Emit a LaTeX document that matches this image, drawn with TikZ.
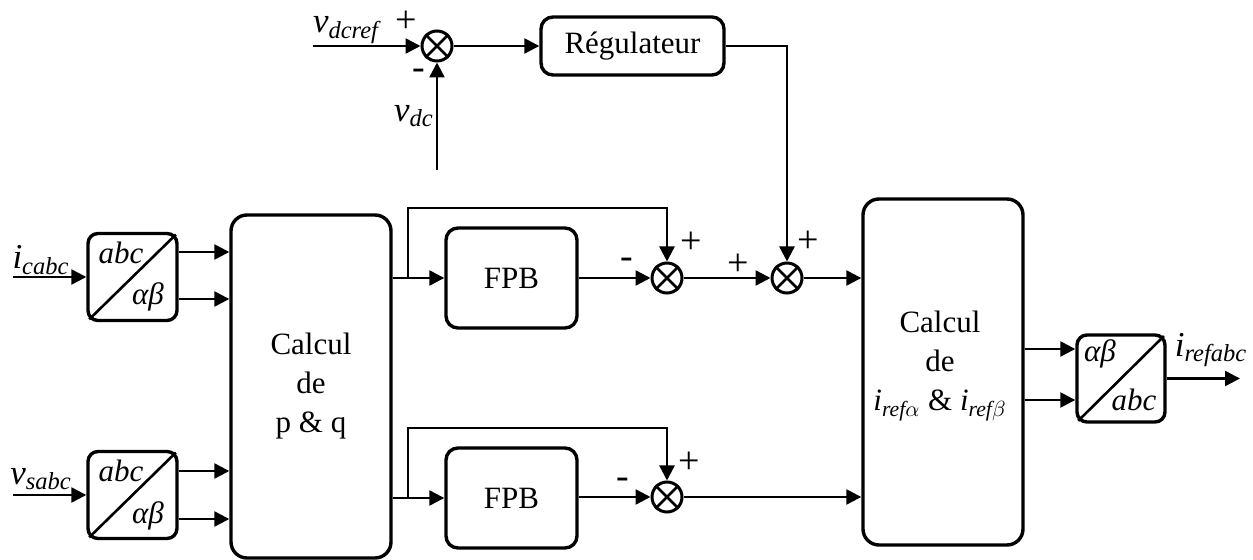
\documentclass[tikz,border=0pt]{standalone}
\usepackage{amsmath}
\usepackage{fontspec}
\setmainfont{Liberation Serif}
\usetikzlibrary{arrows.meta}
\begin{document}
\begin{tikzpicture}[x=0.5pt,y=-0.5pt,
  every node/.style={font=\fontsize{15.5}{19.5}\selectfont},
  wire/.style={line width=1.2pt},
  arr/.style={wire,-{Triangle[length=7.5pt,width=7.5pt]}},
  block/.style={draw,line width=1.7pt,rounded corners=6pt,inner sep=0pt,align=center},
  sumj/.style={draw,circle,line width=1.5pt,minimum size=15pt,inner sep=0pt},
  lbl/.style={inner sep=0pt},
  siglbl/.style={inner sep=0pt,font=\fontsize{17.5}{20}\selectfont},
  sign/.style={inner sep=0pt,font=\fontsize{19}{22}\selectfont}]
\useasboundingbox (0,0) rectangle (1253,560);

% blocks
\node[block,minimum width=91.5pt,minimum height=29pt] (reg) at (632.5,46) {Régulateur};
\node[block,minimum width=80pt,minimum height=171.5pt,rounded corners=8pt] (pq) at (311,386.5) {Calcul\\de\\p \& q};
\node[block,minimum width=65.5pt,minimum height=50pt] (fpb1) at (511.5,278) {FPB};
\node[block,minimum width=65.5pt,minimum height=50pt] (fpb2) at (511.5,498) {FPB};
\node[block,minimum width=80pt,minimum height=173pt,rounded corners=8pt] (iref) at (943,372) {};
\node[lbl,align=center] (ireftxt) at (940,366) {Calcul\\de\\$\textit{i}_{\textit{ref}\alpha}$ \& $\textit{i}_{\textit{ref}\beta}$};

% abc / alpha-beta transforms
\node[block,minimum width=44.5pt,minimum height=43.5pt,rounded corners=5pt] (t1) at (132.5,277) {};
\node[block,minimum width=44.5pt,minimum height=43.5pt,rounded corners=5pt] (t2) at (132.5,495) {};
\node[block,minimum width=44pt,minimum height=43.5pt,rounded corners=5pt] (t3) at (1121,378.5) {};
\foreach \t in {t1,t2,t3}
  \draw[line width=1.3pt,shorten <=2pt,shorten >=2pt] (\t.south west) -- (\t.north east);
\node[lbl] (t1a) at (121,253) {\textit{abc}};
\node[lbl] (t1b) at (148,297) {\textit{αβ}};
\node[lbl] (t2a) at (121,471) {\textit{abc}};
\node[lbl] (t2b) at (148,516) {\textit{αβ}};
\node[lbl] (t3a) at (1100,354) {\textit{αβ}};
\node[lbl] (t3b) at (1134,400) {\textit{abc}};

% summing junctions
\node[sumj] (s1) at (437,46) {};
\node[sumj] (s3) at (667,278) {};
\node[sumj] (s2) at (787,278) {};
\node[sumj] (s4) at (667,497) {};
\foreach \s in {s1,s2,s3,s4}
  \draw[line width=1.4pt] (\s.north west) -- (\s.south east) (\s.north east) -- (\s.south west);

% free ends and branch points
\coordinate (vin) at (313,46);
\coordinate (vdcin) at (437,170);
\coordinate (icin) at (13,277);
\coordinate (vsin) at (13,495);
\coordinate (iout) at (1240,378.5);
\coordinate (b1) at (408,278);
\coordinate (c1) at (408,208);
\coordinate (b2) at (408,498);
\coordinate (c2) at (408,428);

% DC bus voltage loop
\draw[arr] (vin) -- (s1.west);
\draw[arr] (vdcin) -- (s1.south);
\draw[arr] (s1.east) -- (reg.west);
\draw[arr] (reg.east) -| (s2.north);

% inputs to transforms
\draw[arr] (icin) -- (t1.west);
\draw[arr] (vsin) -- (t2.west);
\draw[arr] (t1.east |- 0,252) -- (pq.west |- 0,252);
\draw[arr] (t1.east |- 0,299) -- (pq.west |- 0,299);
\draw[arr] (t2.east |- 0,471) -- (pq.west |- 0,471);
\draw[arr] (t2.east |- 0,519) -- (pq.west |- 0,519);

% p path
\draw[arr] (pq.east |- b1) -- (fpb1.west);
\draw[arr] (b1) -- (c1) -| (s3.north);
\draw[arr] (fpb1.east) -- (s3.west);
\draw[arr] (s3.east) -- (s2.west);
\draw[arr] (s2.east) -- (iref.west |- s2);

% q path
\draw[arr] (pq.east |- b2) -- (fpb2.west);
\draw[arr] (b2) -- (c2) -| (s4.north);
\draw[arr] (fpb2.east |- s4) -- (s4.west);
\draw[arr] (s4.east) -- (iref.west |- s4);

% outputs
\draw[arr] (iref.east |- 0,349) -- (t3.west |- 0,349);
\draw[arr] (iref.east |- 0,400) -- (t3.west |- 0,400);
\draw[arr] (t3.east) -- (iout);

% signal labels
\node[siglbl] (lvref) at (346,30) {$\textit{v}_{\textit{dcref}}$};
\node[siglbl] (lvdc) at (414,116) {$\textit{v}_{\textit{dc}}$};
\node[siglbl] (lic) at (41,260) {$\textit{i}_{\textit{cabc}}$};
\node[siglbl] (lvs) at (41,479) {$\textit{v}_{\textit{sabc}}$};
\node[siglbl] (lio) at (1211,350) {$\textit{i}_{\textit{refabc}}$};

% signs
\node[sign] at (406,22) {+};
\node[sign] at (419,74) {-};
\node[sign] at (627,263) {-};
\node[sign] at (691,243) {+};
\node[sign] at (738,265) {+};
\node[sign] at (808,242) {+};
\node[sign] at (623,483) {-};
\node[sign] at (689,463) {+};
\end{tikzpicture}
\end{document}
